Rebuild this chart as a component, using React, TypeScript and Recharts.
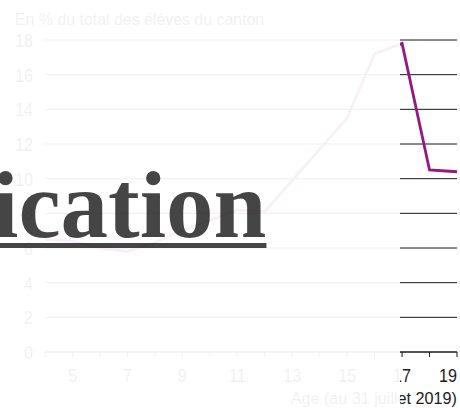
import { LineChart, Line, XAxis, YAxis, CartesianGrid } from "recharts";

// share of pupils by age, canton total (%)
const AGES = [4, 5, 6, 7, 8, 9, 10, 11, 12, 13, 14, 15, 16, 17, 18, 19];
const SHARE = [6.5, 6.4, 6.0, 5.8, 6.3, 7.0, 7.6, 8.2, 8.1, 9.9, 11.7, 13.5, 17.2, 17.8, 10.5, 10.4];
const Y_TICKS = [0, 2, 4, 6, 8, 10, 12, 14, 16, 18];
const TITLE = "En % du total des élèves du canton";
const X_LABEL = "Age (au 31 juillet 2019)";

const W = 460;
const H = 408;
const FONT = "'Liberation Sans', Arial, sans-serif";
const INK = "#1e1e1e";
const PURPLE = "#93197f";
const NARROW = 0.85;

const data = AGES.map((age, i) => ({ age, share: SHARE[i] }));

function XTick(props: any) {
  const { x, y, payload } = props;
  const v = payload.value as number;
  if (v % 2 === 0) return null;
  return (
    <text
      transform={`translate(${x},${y}) scale(${NARROW},1)`}
      dy="0.71em"
      textAnchor={v === AGES[AGES.length - 1] ? "end" : "middle"}
      fill={INK}
      fontSize={19}
      fontFamily={FONT}
    >
      {v}
    </text>
  );
}

function YTick(props: any) {
  const { x, y, payload } = props;
  return (
    <text
      transform={`translate(${x},${y}) scale(${NARROW},1)`}
      dy="0.36em"
      textAnchor="end"
      fill={INK}
      fontSize={19}
      fontFamily={FONT}
    >
      {payload.value}
    </text>
  );
}

const caption = {
  position: "absolute" as const,
  fontFamily: FONT,
  fontSize: 17,
  lineHeight: "17px",
  color: INK,
  whiteSpace: "nowrap" as const,
};

function ChartLayer() {
  return (
    <div style={{ position: "absolute", left: 0, top: 0, width: W, height: H }}>
      <div
        style={{
          ...caption,
          left: 15,
          top: 11,
          transform: "scaleX(0.935)",
          transformOrigin: "left top",
        }}
      >
        {TITLE}
      </div>
      <LineChart
        width={W}
        height={H}
        data={data}
        margin={{ top: 40, right: 3, bottom: 16, left: 0 }}
      >
        <CartesianGrid vertical={false} stroke={INK} strokeWidth={1} />
        <XAxis
          dataKey="age"
          type="number"
          domain={[4, 19]}
          ticks={AGES}
          interval={0}
          height={40}
          tickSize={5}
          tickMargin={11}
          stroke={INK}
          tick={<XTick />}
        />
        <YAxis
          domain={[0, 18]}
          ticks={Y_TICKS}
          width={45}
          axisLine={false}
          tickLine={false}
          tickSize={0}
          tickMargin={12}
          tick={<YTick />}
        />
        <Line
          dataKey="share"
          stroke={PURPLE}
          strokeWidth={2.8}
          dot={false}
          isAnimationActive={false}
        />
      </LineChart>
      <div
        style={{
          ...caption,
          right: 3,
          top: 390,
          transform: "scaleX(0.95)",
          transformOrigin: "right top",
        }}
      >
        {X_LABEL}
      </div>
    </div>
  );
}

export default function App() {
  return (
    <div
      style={{
        position: "fixed",
        left: 0,
        top: 0,
        width: W,
        height: H,
        overflow: "hidden",
        background: "#fff",
      }}
    >
      <div style={{ position: "absolute", inset: 0, opacity: 0.06 }}>
        <ChartLayer />
      </div>
      <span
        style={{
          position: "absolute",
          left: -8,
          top: 158,
          fontFamily: "'Liberation Serif', 'Times New Roman', serif",
          fontWeight: 700,
          fontSize: 95,
          lineHeight: "95px",
          color: "rgba(0,0,0,0.73)",
          textDecoration: "underline",
          textDecorationThickness: "5px",
          textUnderlineOffset: "6px",
          whiteSpace: "nowrap",
        }}
      >
        ication
      </span>
      <div style={{ position: "absolute", inset: 0, clipPath: "inset(0 0 0 400px)" }}>
        <ChartLayer />
      </div>
    </div>
  );
}
